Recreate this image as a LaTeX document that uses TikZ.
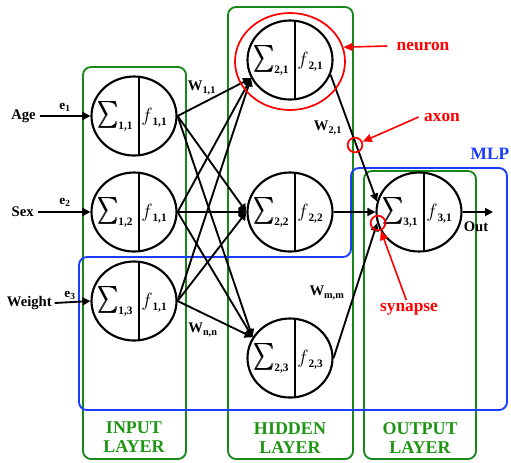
\documentclass[tikz,border=0pt]{standalone}
\usepackage{fontspec}
\usepackage{graphicx}
\setmainfont{Liberation Serif}
\usetikzlibrary{arrows.meta,calc,shapes.geometric}
\definecolor{boxgreen}{RGB}{25,135,25}
\definecolor{txtgreen}{RGB}{30,150,20}
\definecolor{mlpblue}{RGB}{25,60,255}
\definecolor{nred}{RGB}{255,0,0}
\newcommand\subsz{\fontsize{8.5}{9}\selectfont\bfseries}
\newcommand\bigsigma{\scalebox{1.45}[2.0]{$\sum$}}
\newcommand\heavysigma{\rlap{\bigsigma}\kern0.45pt\bigsigma}
\tikzset{
  neuron/.style={ellipse,draw,line width=1.6pt,minimum width=63.75pt,minimum height=59.25pt,inner sep=0pt},
  divline/.style={line width=1.5pt},
  sigmalbl/.style={inner sep=0pt,font=\fontsize{10}{12}\selectfont},
  flbl/.style={inner sep=0pt,font=\fontsize{14}{15}\selectfont},
  conn/.style={line width=1.4pt,-{Triangle[length=6pt,width=6pt]}},
  layerbox/.style={draw=boxgreen,line width=1.4pt,rounded corners=6pt},
  mlpline/.style={draw=mlpblue,line width=1.4pt,rounded corners=6pt},
  layertxt/.style={text=txtgreen,font=\fontsize{13.5}{14.5}\selectfont\bfseries,align=center,inner sep=0pt},
  lbl/.style={font=\fontsize{11}{12}\selectfont\bfseries,inner sep=0pt},
  elbl/.style={font=\fontsize{10}{11}\selectfont\bfseries,inner sep=0pt},
  wlbl/.style={font=\fontsize{11}{12}\selectfont\bfseries,inner sep=0pt},
  redtxt/.style={text=nred,font=\fontsize{13}{14}\selectfont\bfseries,inner sep=0pt},
  redarrow/.style={draw=nred,line width=1.2pt,-{Triangle[length=7pt,width=6pt]}},
  ringmark/.style={circle,draw=nred,line width=1.3pt,minimum size=11pt,inner sep=0pt},
}
\newcommand\nrn[3]{%
  \draw[divline] ($(#1.center)+(5,-39)$) -- ($(#1.center)+(5,39)$);
  \node[sigmalbl] (#1s) at ($(#1.center)+(-19,0)$) {\heavysigma\raisebox{-6pt}{\subsz #2}};
  \node[flbl] (#1f) at ($(#1.center)+(20,2)$) {$f$\raisebox{-3pt}{\subsz #3}};
}
\begin{document}
\begin{tikzpicture}[x=0.75pt,y=-0.75pt]
\useasboundingbox (0,0) rectangle (511,462);
% layer boxes
\draw[layerbox] (83,67) rectangle (186,459);
\draw[layerbox] (228,7) rectangle (353,459);
\draw[layerbox] (364,171) rectangle (476,459);
\draw[mlpline] (79,257) -- (351,257) -- (351,168) -- (507,168) -- (507,410) -- (79,410) -- cycle;
\node[text=mlpblue,font=\fontsize{13}{14}\selectfont\bfseries,inner sep=0pt] (mlp) at (490,154) {MLP};
% layer titles
\node[layertxt] (tin) at (134,437) {INPUT\\LAYER};
\node[layertxt] (thid) at (290,438) {HIDDEN\\LAYER};
\node[layertxt] (tout) at (420,438) {OUTPUT\\LAYER};
% neurons
\node[neuron] (i1) at (134,116) {};
\node[neuron] (i2) at (134,212) {};
\node[neuron] (i3) at (134,301) {};
\node[neuron] (h1) at (290,60) {};
\node[neuron] (h2) at (290,212) {};
\node[neuron] (h3) at (290,358) {};
\node[neuron] (o) at (419,212) {};
\nrn{i1}{1,1}{1,1}
\nrn{i2}{1,2}{1,1}
\nrn{i3}{1,3}{1,1}
\nrn{h1}{2,1}{2,1}
\nrn{h2}{2,2}{2,2}
\nrn{h3}{2,3}{2,3}
\nrn{o}{3,1}{3,1}
% inputs
\node[lbl,anchor=east] (age) at (36,116) {Age};
\node[lbl,anchor=east] (sex) at (34,212) {Sex};
\node[lbl,anchor=east] (wgt) at (52,303) {Weight};
\draw[conn] ([xshift=3pt]age.east) -- (i1.west);
\draw[conn] ([xshift=3pt]sex.east) -- (i2.west);
\draw[conn] ([xshift=2pt]wgt.east) -- (i3.west);
\node[elbl] (e1) at (65,107) {e\textsubscript{1}};
\node[elbl] (e2) at (65,202) {e\textsubscript{2}};
\node[elbl] (e3) at (70,295) {e\textsubscript{3}};
% input -> hidden
\foreach \s in {i1,i2,i3}{
  \draw[conn] (\s.east) -- (h1.205);
  \draw[conn] (\s.east) -- (h2.west);
  \draw[conn] (\s.east) -- (h3.151);
}
% hidden -> output
\draw[conn] (h1.-20) -- (o.166);
\draw[conn] (h2.east) -- (o.west);
\draw[conn] (h3.east) -- (o.195);
\coordinate (outend) at (493,212);
\draw[conn] (o.east) -- (outend);
\node[lbl] (outl) at (476,227) {Out};
% weights
\node[wlbl] (w11) at (202,88) {W\textsubscript{1,1}};
\node[wlbl] (w21) at (328,128) {W\textsubscript{2,1}};
\node[wlbl] (wmm) at (327,293) {W\textsubscript{m,m}};
\node[wlbl] (wnn) at (203,330) {W\textsubscript{n,n}};
% red annotations
\node[ellipse,draw=nred,line width=1.3pt,minimum width=82.5pt,minimum height=72.75pt,inner sep=0pt] (ring) at (290,61.5) {};
\node[redtxt] (ntxt) at (423,46) {neuron};
\draw[redarrow] ([xshift=-7pt]ntxt.west) -- (ring.15);
\node[ringmark] (axring) at (355,145) {};
\node[redtxt] (atxt) at (442,117) {axon};
\draw[redarrow] ([xshift=-4pt]atxt.west) -- (axring);
\node[ringmark] (syring) at (378,223) {};
\node[redtxt] (stxt) at (409,309) {synapse};
\draw[redarrow] ([xshift=-2pt,yshift=2pt]stxt.north) -- (syring);
\end{tikzpicture}
\end{document}
